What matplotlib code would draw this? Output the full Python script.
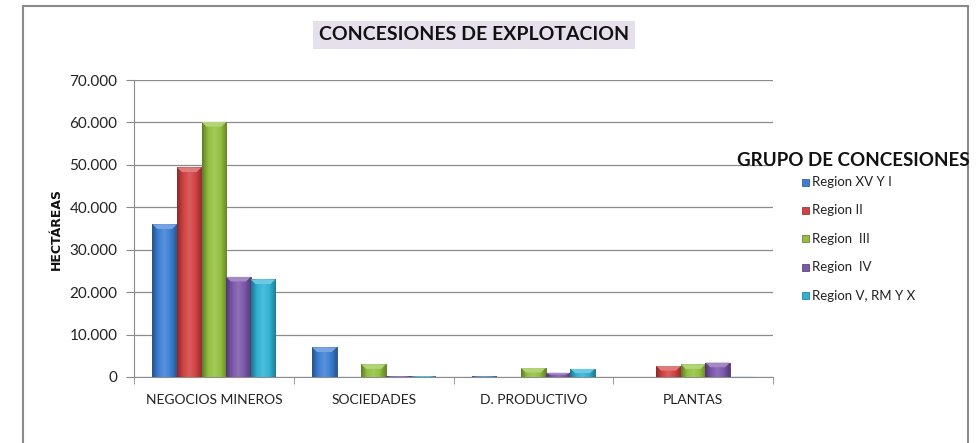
import numpy as np
import matplotlib
matplotlib.use('Agg')
import matplotlib.pyplot as plt
from matplotlib.colors import LinearSegmentedColormap, to_rgb
from matplotlib.patches import Rectangle
from matplotlib.ticker import FuncFormatter

categories = ['NEGOCIOS MINEROS', 'SOCIEDADES', 'D. PRODUCTIVO', 'PLANTAS']
series = ['Region XV Y I', 'Region II', 'Region  III', 'Region  IV', 'Region V, RM Y X']
region_xv_i = [36000, 7000, 200, 0]
region_ii = [49400, 0, 0, 2600]
region_iii = [60100, 3000, 2100, 3000]
region_iv = [23600, 200, 1000, 3400]
region_v_rm_x = [23000, 200, 1900, 100]
colors = ['#3d7fd4', '#d24242', '#92c03e', '#7b57aa', '#2fb2d4']

W, H = 976, 443
plt.rcParams['font.family'] = ['Lato', 'DejaVu Sans']
fig = plt.figure(figsize=(W / 100, H / 100), dpi=100)
ax = fig.add_axes([134 / W, 1 - 377 / H, (773 - 134) / W, (377 - 80) / H])

def shade(c, f):
    r = np.array(to_rgb(c))
    if f < 1:
        return tuple(r * f)
    return tuple(r + (1 - r) * (f - 1))

values = [region_xv_i, region_ii, region_iii, region_iv, region_v_rm_x]
x = np.arange(len(categories))
bw = 0.154
grad = np.linspace(0, 1, 64).reshape(1, -1)
for i, (name, vals) in enumerate(zip(series, values)):
    col = colors[i]
    bars = ax.bar(x + (i - 2) * bw, vals, bw, color=col, edgecolor=shade(col, 0.6),
                  linewidth=0.6, zorder=3)
    cmap = LinearSegmentedColormap.from_list(
        'g%d' % i, [shade(col, 0.65), shade(col, 1.0), shade(col, 1.15),
                    shade(col, 1.0), shade(col, 0.7)])
    for b in bars:
        h = b.get_height()
        if h <= 0:
            continue
        x0 = b.get_x()
        im = ax.imshow(grad, extent=[x0, x0 + bw, 0, h], aspect='auto', cmap=cmap,
                       zorder=3.5, interpolation='bilinear')
        im.set_clip_path(b)
        # bevel cap at top
        cap = min(1100, h * 0.5)
        ax.fill([x0, x0 + bw, x0 + bw * 0.8, x0 + bw * 0.2],
                [h, h, h - cap, h - cap], color=shade(col, 1.3), zorder=3.6, lw=0)

ax.set_xlim(-0.5, 3.5)
ax.set_ylim(0, 70000)
ax.set_yticks(np.arange(0, 70001, 10000))
ax.yaxis.set_major_formatter(FuncFormatter(lambda v, p: '{:,.0f}'.format(v).replace(',', '.')))
ax.set_xticks(x)
ax.set_xticklabels(categories)
ax.set_xticks(np.arange(-0.5, 4, 1), minor=True)
ax.tick_params(axis='x', which='major', length=0, pad=12, labelsize=10, colors='#222222')
ax.tick_params(axis='x', which='minor', length=5, color='#888888', direction='out')
ax.tick_params(axis='y', length=6, labelsize=11, pad=6, colors='#888888', labelcolor='#222222')
ax.grid(axis='y', color='#8c8c8c', linewidth=0.9, zorder=0)
for s in ['top', 'right']:
    ax.spines[s].set_visible(False)
for s in ['left', 'bottom']:
    ax.spines[s].set_color('#8c8c8c')
ax.set_axisbelow(True)
ax.set_ylabel('HECTÁREAS', fontsize=9, fontweight='bold', family='DejaVu Sans', labelpad=5,
              color='#111111')

fig.text(474 / W, 1 - 35 / H, 'CONCESIONES DE EXPLOTACION', fontsize=14, fontweight='bold',
         ha='center', va='center', color='#111111',
         bbox=dict(boxstyle='square,pad=0.3', fc='#e5e0ec', ec='none'))

# legend
fig.text(737 / W, 1 - 161 / H, 'GRUPO DE CONCESIONES', fontsize=13.5, fontweight='bold',
         ha='left', va='center', color='#111111')
for i, name in enumerate(series):
    yc = 182 + i * 28.4
    fig.patches.append(Rectangle(((802) / W, 1 - (yc + 3.5) / H), 7 / W, 7 / H,
                                 transform=fig.transFigure, fc=colors[i], ec=shade(colors[i], 0.6), lw=0.5))
    fig.text(812 / W, 1 - yc / H, name, fontsize=9.5, ha='left', va='center', color='#222222')

# outer frame
fig.patches.append(Rectangle((23 / W, -0.05), (968 - 23) / W, 1.05 - 6 / H,
                             transform=fig.transFigure, fill=False, ec='#8a8a8a', lw=1.5))

fig.savefig('out.png', dpi=100)
